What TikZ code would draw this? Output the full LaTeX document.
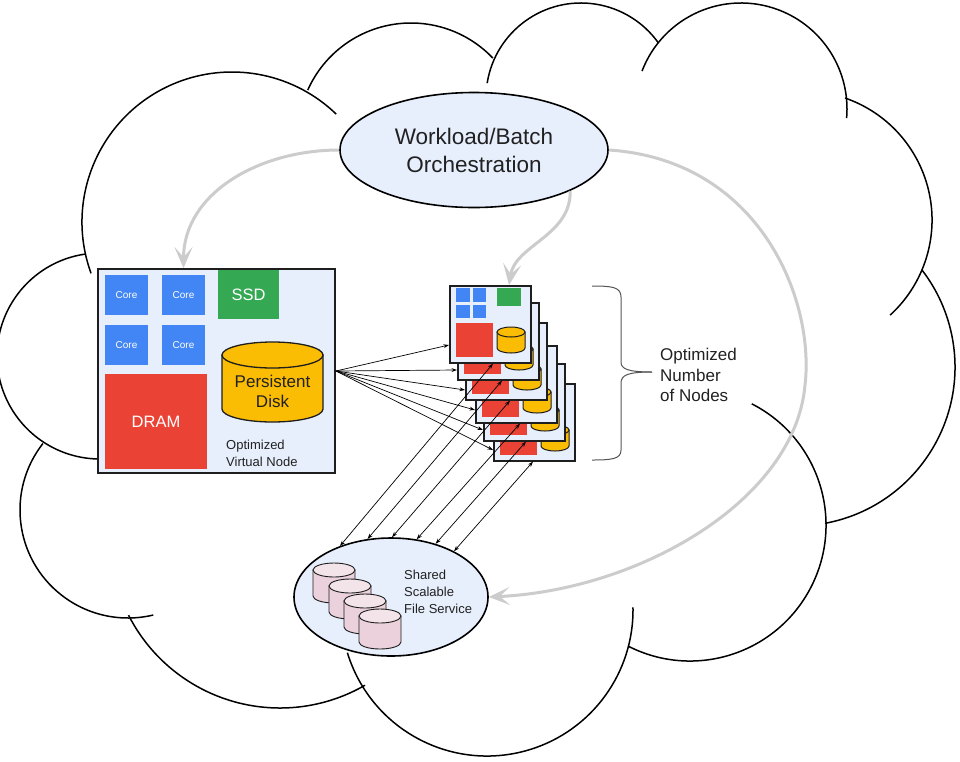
\documentclass[tikz,border=0pt]{standalone}
\usepackage{fontspec}
\setmainfont{Liberation Sans}
\usetikzlibrary{shapes.geometric,arrows.meta,calc}
\definecolor{lblue}{HTML}{E8EFFC}
\definecolor{gblue}{HTML}{4285F4}
\definecolor{ggreen}{HTML}{34A853}
\definecolor{gred}{HTML}{EA4335}
\definecolor{gyellow}{HTML}{FBBC04}
\definecolor{gpink}{HTML}{EAD1DC}
\definecolor{gpinktop}{HTML}{F3E4EA}
\definecolor{garrow}{HTML}{CCCCCC}
\definecolor{ink}{HTML}{212121}
\definecolor{edge}{HTML}{1E1E1E}
\definecolor{bracecol}{HTML}{555555}

% cylinder: x0, ytop, width, height, ry, style
\newcommand{\cylpath}[6]{%
  \filldraw[#6] (#1,{#2+#5}) -- (#1,{#2+#4-#5})
     arc[start angle=180,end angle=0,x radius={#3/2},y radius=#5]
     -- ({#1+#3},{#2+#5}) -- cycle;
  \filldraw[#6] ({#1+#3/2},{#2+#5}) ellipse[x radius={#3/2},y radius=#5];
}
\newcommand{\cyltwo}[7]{%
  \filldraw[#6] (#1,{#2+#5}) -- (#1,{#2+#4-#5})
     arc[start angle=180,end angle=0,x radius={#3/2},y radius=#5]
     -- ({#1+#3},{#2+#5}) -- cycle;
  \filldraw[#6,#7] ({#1+#3/2},{#2+#5}) ellipse[x radius={#3/2},y radius=#5];
}

\tikzset{
  txt/.style={text=ink, inner sep=0pt},
  chip/.style={inner sep=0pt, text=white},
  card/.style={draw=edge, line width=1.6pt, fill=lblue, minimum width=81pt, minimum height=77pt, inner sep=0pt},
  cloudline/.style={draw=black, line width=1.5pt},
  flow/.style={draw=garrow, line width=3pt, -{Stealth[length=21pt,width=18pt,inset=10pt]}},
  link/.style={draw=black, line width=0.7pt, -{Stealth[length=5.5pt,width=3.8pt]}},
  blink/.style={draw=black, line width=0.7pt, {Stealth[length=5.5pt,width=3.8pt]}-{Stealth[length=5.5pt,width=3.8pt]}},
}

\newcommand{\vmcard}[3]{%
  \node[card, anchor=north west] (#1) at (#2,#3) {};
  \begin{scope}[shift={(#2,#3)}]
    \fill[gblue] (7,3) rectangle (20.5,16.5);
    \fill[gblue] (23.5,3) rectangle (37,16.5);
    \fill[gblue] (7,19.5) rectangle (20.5,33);
    \fill[gblue] (23.5,19.5) rectangle (37,33);
    \fill[ggreen] (48,3) rectangle (72,21);
    \fill[gred] (7,38) rectangle (44,72);
    \cylpath{48}{42}{28}{26}{5}{fill=gyellow,draw=edge,line width=1pt}
  \end{scope}}

\begin{document}
\begin{tikzpicture}[x=1pt,y=-1pt]
\useasboundingbox (0,0) rectangle (960,761);
\fill[white] (0,0) rectangle (960,761);

% ---------- cloud ----------
\draw[cloudline] (232,222) ++(160:150) arc[start angle=160,end angle=314,radius=150];
\draw[cloudline] (100,356) ++(262:103) arc[start angle=262,end angle=75,radius=103];
\draw[cloudline] (128,510) ++(218:108) arc[start angle=218,end angle=76.5,radius=108];
\draw[cloudline] (280,538) ++(153:170) arc[start angle=153,end angle=60,radius=170];
\draw[cloudline] (487,610) ++(163:146) arc[start angle=163,end angle=-1,radius=146];
\draw[cloudline] (690,525) ++(117:136) arc[start angle=117,end angle=-63,radius=136];
\draw[cloudline] (796,367) ++(79.5:159) arc[start angle=79.5,end angle=-37.6,radius=159];
\draw[cloudline] (803,220) ++(-71:129) arc[start angle=-71,end angle=47.5,radius=129];
\draw[cloudline] (741,109) ++(-159:106) arc[start angle=-159,end angle=4.9,radius=106];
\draw[cloudline] (581,98) ++(-171:95) arc[start angle=-171,end angle=-35.5,radius=95];
\draw[cloudline] (411,136) ++(-156:113) arc[start angle=-156,end angle=-43.6,radius=113];

% ---------- optimized virtual node ----------
\node[draw=edge, line width=1.8pt, fill=lblue, minimum width=237pt, minimum height=204pt, inner sep=0pt] (vm) at (216.5,371) {};
\node[chip, fill=gblue, minimum width=43pt, minimum height=40pt, font=\fontsize{10}{12}\selectfont] (c1) at (126.5,295) {Core};
\node[chip, fill=gblue, minimum width=43pt, minimum height=40pt, font=\fontsize{10}{12}\selectfont] (c2) at (183.5,295) {Core};
\node[chip, fill=gblue, minimum width=43pt, minimum height=40pt, font=\fontsize{10}{12}\selectfont] (c3) at (126.5,345) {Core};
\node[chip, fill=gblue, minimum width=43pt, minimum height=40pt, font=\fontsize{10}{12}\selectfont] (c4) at (183.5,345) {Core};
\node[chip, fill=ggreen, minimum width=61pt, minimum height=49pt, font=\fontsize{16.5}{19}\selectfont] (ssd) at (248.5,294.5) {SSD};
\node[chip, fill=gred, minimum width=102pt, minimum height=95pt, font=\fontsize{16.5}{19}\selectfont] (dram) at (156,421.5) {DRAM};
\cylpath{222}{342}{101}{80}{13}{fill=gyellow,draw=edge,line width=1.3pt}
\node[txt, align=center, font=\fontsize{17}{20}\selectfont] (pd) at (272.5,391) {Persistent\\Disk};
\node[txt, align=left, anchor=west, font=\fontsize{13}{17}\selectfont] (ovn) at (226,453) {Optimized\\Virtual Node};

% ---------- stack of nodes ----------
\vmcard{m6}{493}{383}
\vmcard{m5}{483}{363}
\vmcard{m4}{475}{345}
\vmcard{m3}{465}{322}
\vmcard{m2}{457}{302}
\vmcard{m1}{449}{285}

% brace
\draw[bracecol, line width=1pt] (592,286) .. controls (612,286) and (621,287) .. (621,297) -- (621,362)
  .. controls (621,369) and (628,372) .. (652,372);
\draw[bracecol, line width=1pt] (652,372) .. controls (628,372) and (621,375) .. (621,383) -- (621,450)
  .. controls (621,459) and (612,460) .. (592,460);
\node[txt, align=left, anchor=west, font=\fontsize{17}{20.5}\selectfont] (onn) at (660,375) {Optimized\\Number\\of Nodes};

% ---------- orchestration ----------
\node[ellipse, draw=black, line width=1.6pt, fill=lblue, minimum width=268pt, minimum height=115pt, inner sep=0pt, align=center, text=ink, font=\fontsize{22.5}{28}\selectfont] (wb) at (474,150) {Workload/Batch\\Orchestration};

% ---------- file service ----------
\node[ellipse, draw=black, line width=1.6pt, fill=lblue, minimum width=194pt, minimum height=118pt, inner sep=0pt] (fs) at (391,597) {};
\cyltwo{313}{563}{42}{40}{7}{fill=gpink,draw=edge,line width=0.9pt}{fill=gpinktop}
\cyltwo{329}{579}{42}{40}{7}{fill=gpink,draw=edge,line width=0.9pt}{fill=gpinktop}
\cyltwo{344}{594}{42}{40}{7}{fill=gpink,draw=edge,line width=0.9pt}{fill=gpinktop}
\cyltwo{359}{609}{42}{40}{7}{fill=gpink,draw=edge,line width=0.9pt}{fill=gpinktop}
\node[txt, align=left, anchor=west, font=\fontsize{13}{17}\selectfont] (fst) at (404,592) {Shared\\Scalable\\File Service};

% ---------- gray flows ----------
\draw[flow] (wb.west) .. controls +(-80,0) and +(0,-75) .. (c2.north |- vm.north);
\draw[flow] (wb.-23) .. controls +(1,45) and +(6,-40) .. ($(m1.north west)+(60,0)$);
\coordinate (bend) at (805,385);
\draw[flow] (wb.east) .. controls (760,160) and (815,300) .. (bend) .. controls (795,500) and (640,590) .. (fs.east);

% ---------- black links ----------
\foreach \c/\d in {m1/60, m2/68, m3/68, m4/65, m5/67, m6/67}
  \draw[link] (vm.east) -- ($(\c.north west)+(0,\d)$);
\foreach \a/\c/\dx in {135.6/m1/44, 112.6/m2/45, 89/m3/45, 66.6/m4/45, 50/m5/43, 36.7/m6/40}
  \draw[blink] (fs.\a) -- ($(\c.south west)+(\dx,0)$);
\end{tikzpicture}
\end{document}
